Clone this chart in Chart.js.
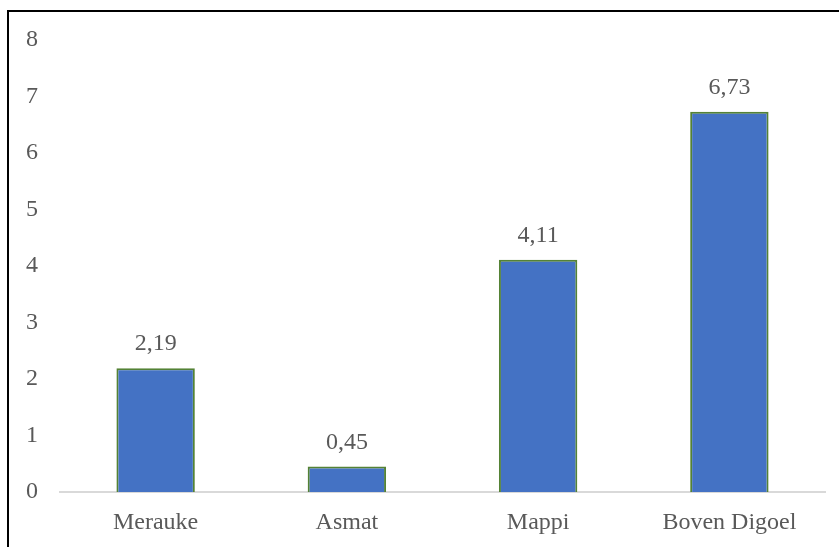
<!DOCTYPE html>
<html>
<head>
<meta charset="utf-8">
<script src="https://cdn.jsdelivr.net/npm/chart.js"></script>
<style>
  html, body { margin: 0; padding: 0; background: #fff; }
  #wrap { position: relative; width: 839px; height: 547px; overflow: hidden; }
  #frame { position: absolute; left: 7px; top: 10px; width: 900px; height: 600px;
           border-left: 2px solid #000; border-top: 2px solid #000; }
  canvas { position: absolute; left: 0; top: 0; }
</style>
</head>
<body>
<div id="wrap">
  <div id="frame"></div>
  <canvas id="chart" width="839" height="547"></canvas>
</div>
<script>
  // chart data
  const categories = ['Merauke', 'Asmat', 'Mappi', 'Boven Digoel'];
  const values = [2.19, 0.45, 4.11, 6.73];
  const yTicks = [0, 1, 2, 3, 4, 5, 6, 7, 8];

  const textColor = '#595959';
  const fontFamily = '"Liberation Serif", "Times New Roman", serif';

  // draws the value above each bar, comma as decimal separator
  const valueLabels = {
    id: 'valueLabels',
    afterDatasetsDraw(chart) {
      const ctx = chart.ctx;
      const meta = chart.getDatasetMeta(0);
      ctx.save();
      ctx.font = '24px ' + fontFamily;
      ctx.fillStyle = textColor;
      ctx.textAlign = 'center';
      ctx.textBaseline = 'alphabetic';
      meta.data.forEach((bar, i) => {
        const txt = values[i].toFixed(2).replace('.', ',');
        ctx.fillText(txt, bar.x, bar.y - 18);
      });
      ctx.restore();
    }
  };

  const ctx = document.getElementById('chart').getContext('2d');
  new Chart(ctx, {
    type: 'bar',
    data: {
      labels: categories,
      datasets: [{
        data: values,
        backgroundColor: '#4472C4',
        borderColor: '#548235',
        borderWidth: 2,
        categoryPercentage: 1,
        barPercentage: 0.41
      }]
    },
    options: {
      responsive: false,
      animation: false,
      layout: { padding: { top: 40, right: 14, left: 0, bottom: 0 } },
      plugins: {
        legend: { display: false },
        tooltip: { enabled: false }
      },
      scales: {
        x: {
          grid: { display: false, drawTicks: false },
          border: { display: true, color: '#d9d9d9', width: 2 },
          ticks: {
            color: textColor,
            padding: 16,
            font: { family: fontFamily, size: 24 }
          },
          afterFit(scale) { scale.height = 55; }
        },
        y: {
          min: 0,
          max: yTicks[yTicks.length - 1],
          grid: { display: false, drawTicks: false },
          border: { display: false },
          afterBuildTicks(scale) { scale.ticks = yTicks.map(v => ({ value: v })); },
          ticks: {
            color: textColor,
            padding: 22,
            font: { family: fontFamily, size: 24 }
          },
          afterFit(scale) { scale.width = 60; }
        }
      }
    },
    plugins: [valueLabels]
  });
</script>
</body>
</html>
